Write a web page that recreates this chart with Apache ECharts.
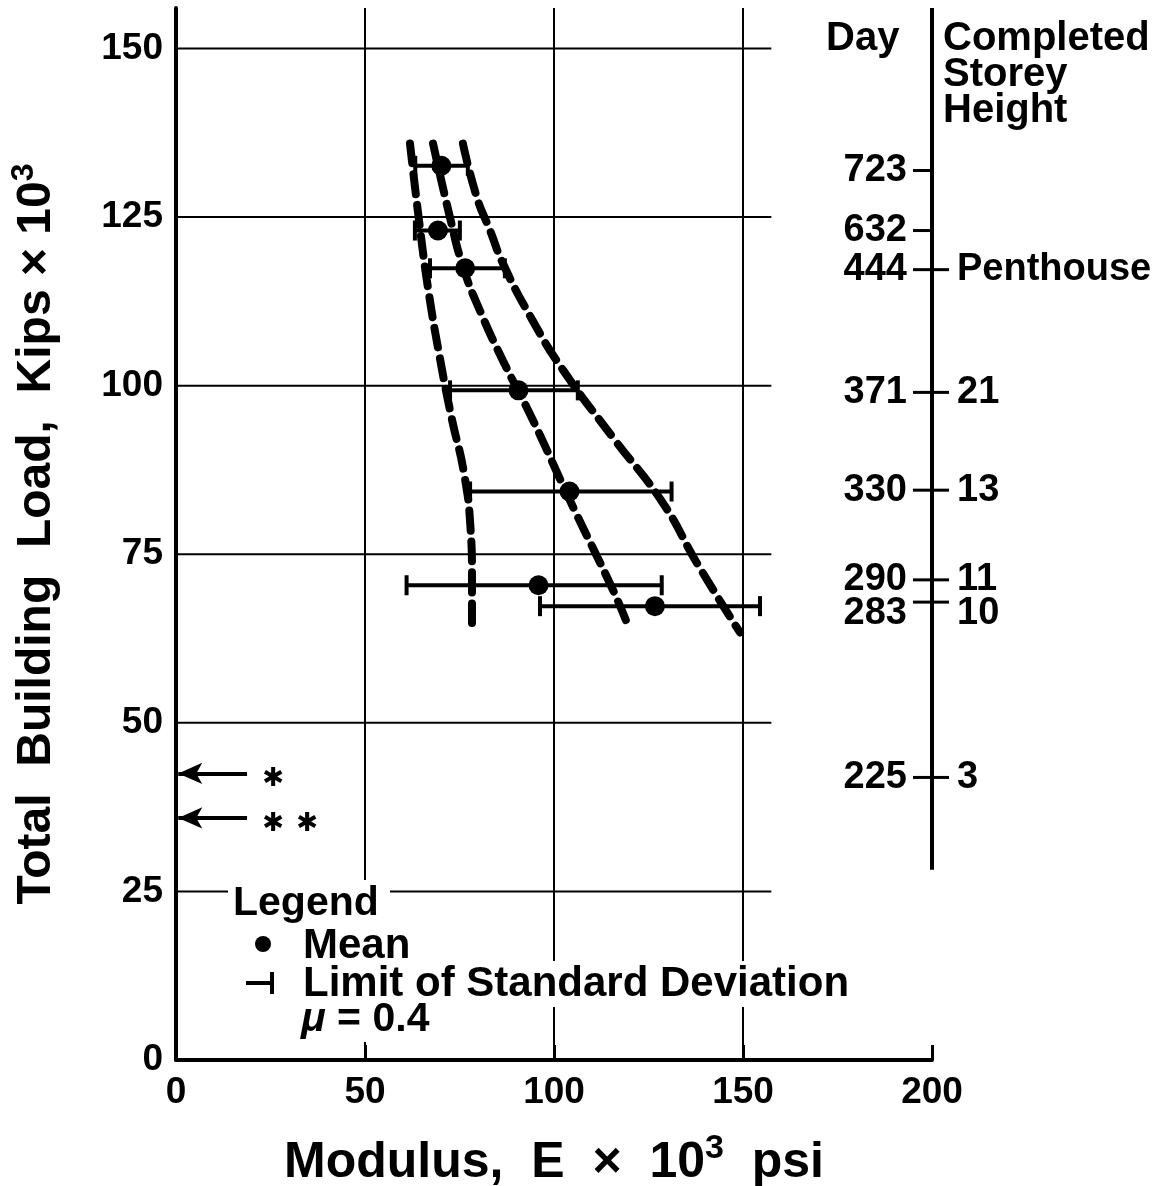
<!DOCTYPE html>
<html><head><meta charset="utf-8">
<script src="https://cdn.jsdelivr.net/npm/echarts@6/dist/echarts.min.js"></script>
<style>html,body{margin:0;padding:0;background:#fff}#c{width:1167px;height:1186px}</style>
</head><body><div id="c"></div>
<script>
// ---- data ----
const xTicks = [0, 50, 100, 150, 200];
const yTicks = [0, 25, 50, 75, 100, 125, 150];
// mean modulus (E x10^3 psi) and load (kips x10^3)
const meanE    = [70.2, 69.3, 76.5, 90.6, 104.1, 95.9, 126.7];
const meanLoad = [132.6, 123.0, 117.4, 99.3, 84.3, 70.4, 67.3];
// limits of standard deviation
const sdLow  = [63.3, 63.2, 67.2, 72.5, 77.8, 61.0, 96.3];
const sdHigh = [77.2, 75.1, 87.0, 106.3, 131.1, 128.5, 154.5];
// dashed envelope curves [E, load]
const leftCurve  = [[61.9,135.9],[64.4,124.0],[66.8,114.0],[70.0,103.5],[73.0,95.0],[76.2,87.0],[77.9,79.0],[78.3,72.0],[78.3,64.8]];
const midCurve   = [[68.0,135.9],[72.5,124.9],[76.0,117.5],[80.5,111.0],[86.5,103.7],[94.4,94.9],[104.2,83.0],[115.6,69.7],[119.3,64.8]];
const rightCurve = [[75.9,135.9],[79.6,127.9],[83.1,123.0],[86.5,118.1],[94.0,110.0],[102.4,102.3],[115.6,92.3],[128.8,82.6],[137.8,73.7],[149.2,63.4]];
// right-hand scale: load at which day / storey was reached
const rightLoads   = [131.9, 123.0, 117.2, 99.0, 84.5, 71.2, 67.9, 41.9];
const dayLabels    = ['723', '632', '444', '371', '330', '290', '283', '225'];
const storeyLabels = ['', '', 'Penthouse', '21', '13', '11', '10', '3'];
const rightAxisRange = [28.2, 156];
// arrows marking loads * and **
const arrowLoads = [42.5, 35.9];
const arrowLength = 18.8;
const starMarks = [[25.7, 42.5], [25.7, 35.9], [34.7, 35.9]];
const gridLineEnd = 157.5;

const FONT = '"Liberation Sans", Arial, sans-serif';
const chart = echarts.init(document.getElementById('c'));

const option = {
  backgroundColor: '#fff',
  animation: false,
  grid: { left: 176, right: 235, top: 8, bottom: 126, containLabel: false, outerBoundsMode: 'none' },
  xAxis: {
    type: 'value', min: 0, max: 200, interval: 50,
    axisLine: { show: true, lineStyle: { color: '#000', width: 4 } },
    axisTick: { show: true, inside: true, length: 15, lineStyle: { color: '#000', width: 3 } },
    axisLabel: { color: '#000', fontFamily: FONT, fontWeight: 'bold', fontSize: 37, margin: 14 },
    splitLine: { show: true, showMinLine: false, showMaxLine: false, lineStyle: { color: '#000', width: 2 } },
    name: 'Modulus,  E  ×  10{sup|3}  psi',
    nameLocation: 'middle', nameGap: 72,
    nameTextStyle: { color: '#000', fontFamily: FONT, fontWeight: 'bold', fontSize: 50,
      rich: { sup: { fontFamily: FONT, fontWeight: 'bold', fontSize: 34, verticalAlign: 'top', padding: [0, 0, 28, 0] } } }
  },
  yAxis: {
    type: 'value', min: 0, max: 156, interval: 25,
    axisLine: { show: true, lineStyle: { color: '#000', width: 4 } },
    axisTick: { show: false },
    axisLabel: { color: '#000', fontFamily: FONT, fontWeight: 'bold', fontSize: 37, margin: 13,
      formatter: v => (yTicks.indexOf(v) >= 0 ? String(v) : '') },
    splitLine: { show: false },
    name: 'Total  Building  Load,  Kips × 10{sup|3}',
    nameLocation: 'middle', nameGap: 110, nameRotate: 90,
    nameTextStyle: { color: '#000', fontFamily: FONT, fontWeight: 'bold', fontSize: 48,
      rich: { sup: { fontFamily: FONT, fontWeight: 'bold', fontSize: 32, verticalAlign: 'top', padding: [0, 0, 26, 0] } } }
  },
  series: [
    { // horizontal grid lines
      type: 'custom', silent: true, z: 1,
      data: yTicks.slice(1).map(v => [v]),
      encode: { y: 0 },
      renderItem: (params, api) => {
        const v = api.value(0);
        const a = api.coord([0, v]), b = api.coord([gridLineEnd, v]);
        return { type: 'line', shape: { x1: a[0], y1: a[1], x2: b[0], y2: b[1] }, style: { stroke: '#000', lineWidth: 2 } };
      }
    },
    { type: 'line', data: leftCurve, smooth: 0.5, symbol: 'none', z: 3,
      lineStyle: { color: '#000', width: 8, type: [20, 11], cap: 'round' } },
    { type: 'line', data: midCurve, smooth: 0.5, symbol: 'none', z: 3,
      lineStyle: { color: '#000', width: 8, type: [20, 11], cap: 'round' } },
    { type: 'line', data: rightCurve, smooth: 0.5, symbol: 'none', z: 3,
      lineStyle: { color: '#000', width: 8, type: [20, 11], cap: 'round' } },
    { // standard deviation bars
      type: 'custom', z: 4,
      data: meanLoad.map((l, i) => [l, sdLow[i], sdHigh[i]]),
      encode: { y: 0, x: [1, 2] },
      renderItem: (params, api) => {
        const y = api.value(0), lo = api.value(1), hi = api.value(2);
        const a = api.coord([lo, y]), b = api.coord([hi, y]);
        const st = { stroke: '#000', lineWidth: 4 };
        return { type: 'group', children: [
          { type: 'line', shape: { x1: a[0], y1: a[1], x2: b[0], y2: b[1] }, style: st },
          { type: 'line', shape: { x1: a[0], y1: a[1] - 10, x2: a[0], y2: a[1] + 10 }, style: st },
          { type: 'line', shape: { x1: b[0], y1: b[1] - 10, x2: b[0], y2: b[1] + 10 }, style: st }
        ] };
      }
    },
    { type: 'scatter', data: meanE.map((e, i) => [e, meanLoad[i]]), symbol: 'circle', symbolSize: 20, z: 5,
      itemStyle: { color: '#000', opacity: 1 } },
    { // right-hand scale line
      type: 'line', clip: false, symbol: 'none', z: 4,
      data: [[200, rightAxisRange[0]], [200, rightAxisRange[1]]],
      lineStyle: { color: '#000', width: 4 }
    },
    { // right-hand scale ticks & labels
      type: 'custom', clip: false, z: 4,
      data: rightLoads.map(v => [200, v]),
      encode: { x: 0, y: 1 },
      renderItem: (params, api) => {
        const i = params.dataIndex;
        const p = api.coord([200, api.value(1)]);
        let dy = 0;
        if (i > 0) {
          const prev = api.coord([200, rightLoads[i - 1]]);
          if (p[1] - prev[1] < 28) dy = 11;
        }
        const st = { stroke: '#000', lineWidth: 3 };
        const children = [
          { type: 'line', shape: { x1: p[0] - 19, y1: p[1], x2: p[0], y2: p[1] }, style: st },
          { type: 'text', x: p[0] - 25, y: p[1] + dy, style: { text: dayLabels[i], fill: '#000',
            font: 'bold 38px ' + FONT, align: 'right', verticalAlign: 'middle' } }
        ];
        if (storeyLabels[i]) {
          children.push({ type: 'line', shape: { x1: p[0], y1: p[1], x2: p[0] + 17, y2: p[1] }, style: st });
          children.push({ type: 'text', x: p[0] + 25, y: p[1] + dy, style: { text: storeyLabels[i], fill: '#000',
            font: 'bold 38px ' + FONT, align: 'left', verticalAlign: 'middle' } });
        }
        return { type: 'group', children };
      }
    },
    { // arrows
      type: 'line', data: [], symbol: 'none',
      markLine: {
        silent: true, symbol: ['none', 'arrow'], symbolSize: [16, 24],
        label: { show: false },
        lineStyle: { color: '#000', width: 4, type: 'solid' },
        data: arrowLoads.map(v => [{ coord: [arrowLength, v] }, { coord: [0.6, v] }])
      }
    },
    { // asterisks
      type: 'custom', z: 5,
      data: starMarks,
      encode: { x: 0, y: 1 },
      renderItem: (params, api) => {
        const p = api.coord([api.value(0), api.value(1)]);
        return { type: 'text', x: p[0], y: p[1] + 6, style: { text: '✱', fill: '#000', font: '26px "DejaVu Sans"',
          align: 'center', verticalAlign: 'middle' } };
      }
    }
  ],
  graphic: [
    { type: 'text', left: 826, top: 19, z: 10, style: { text: 'Day', fill: '#000', font: 'bold 40px ' + FONT } },
    { type: 'text', left: 943, top: 19, z: 10, style: { text: 'Completed\nStorey\nHeight', fill: '#000',
      font: 'bold 40px ' + FONT, lineHeight: 36 } },
    // legend block
    { type: 'rect', z: 10, shape: { x: 228, y: 880, width: 162, height: 162 }, style: { fill: '#fff' } },
    { type: 'text', z: 11, left: 233, top: 883, style: { text: 'Legend', fill: '#000', font: 'bold 41px ' + FONT } },
    { type: 'circle', z: 11, shape: { cx: 263, cy: 944, r: 8 }, style: { fill: '#000' } },
    { type: 'text', z: 11, left: 303, top: 925, style: { text: 'Mean', fill: '#000', font: 'bold 42px ' + FONT } },
    { type: 'line', z: 11, shape: { x1: 246, y1: 983, x2: 272, y2: 983 }, style: { stroke: '#000', lineWidth: 4 } },
    { type: 'line', z: 11, shape: { x1: 272, y1: 972, x2: 272, y2: 994 }, style: { stroke: '#000', lineWidth: 4 } },
    { type: 'text', z: 11, left: 303, top: 961, style: { text: 'Limit of Standard Deviation', fill: '#000',
      font: 'bold 42px ' + FONT, backgroundColor: '#fff', padding: [2, 4, 2, 0] } },
    { type: 'text', z: 11, left: 301, top: 999, style: { text: '{mu|μ} = 0.4', fill: '#000', font: 'bold 41px ' + FONT,
      rich: { mu: { fontFamily: FONT, fontWeight: 'bold', fontStyle: 'italic', fontSize: 41 } } } }
  ]
};
chart.setOption(option);
</script>
</body></html>
